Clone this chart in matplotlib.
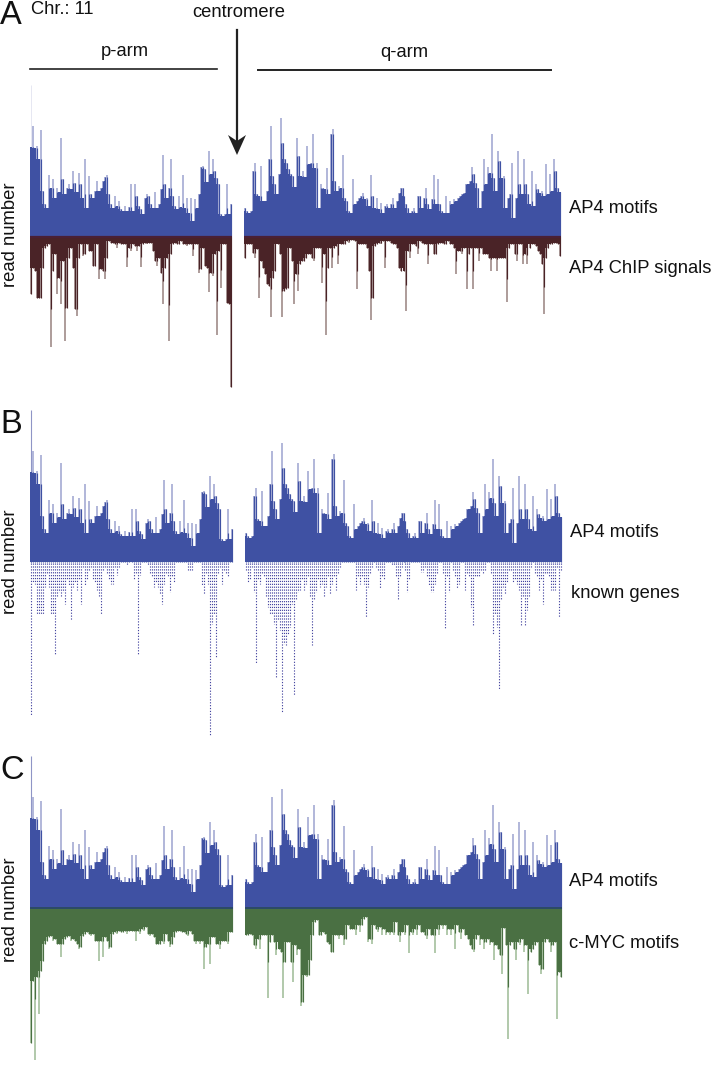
import matplotlib
import numpy as np

matplotlib.use("Agg")
import matplotlib.pyplot as plt  # noqa: E402
from matplotlib.patches import Polygon  # noqa: E402

plt.rcParams["font.family"] = ["Liberation Sans", "DejaVu Sans"]

# read numbers per bin along the chromosome, p-arm and q-arm (1 unit = 1 px of the figure)
ap4_p = [90, 111, 89, 91, 78, 107, 46, 33, 29, 62, 49, 58, 39, 49, 45, 99, 58, 43, 49, 53, 48, 66, 54, 45, 64, 53, 39, 78, 29, 61,
         43, 39, 46, 56, 46, 49, 56, 60, 62, 43, 33, 29, 41, 31, 36, 28, 26, 31, 26, 30, 53, 26, 53, 41, 31, 28, 23, 39, 43, 41,
         33, 29, 45, 29, 33, 48, 82, 53, 39, 49, 78, 41, 31, 28, 41, 30, 62, 29, 39, 24, 39, 16, 38, 29, 43, 70, 71, 68, 55, 86,
         63, 78, 66, 59, 53, 23, 21, 23, 53, 23, 33]
ap4_q = [29, 26, 24, 26, 66, 74, 43, 41, 71, 36, 36, 46, 78, 111, 61, 53, 43, 63, 119, 94, 78, 74, 68, 63, 61, 50, 99, 81, 61, 66,
         60, 91, 73, 74, 103, 69, 74, 29, 53, 49, 48, 69, 43, 103, 108, 56, 46, 51, 49, 82, 39, 36, 26, 24, 58, 33, 36, 39, 41, 44,
         38, 39, 31, 62, 41, 29, 39, 28, 34, 24, 31, 33, 29, 33, 39, 29, 36, 44, 49, 49, 41, 33, 29, 24, 26, 29, 24, 41, 41, 29,
         39, 49, 33, 28, 38, 62, 33, 58, 33, 26, 24, 41, 24, 36, 33, 38, 36, 39, 41, 43, 44, 53, 53, 56, 70, 63, 54, 49, 29, 46,
         78, 53, 70, 64, 103, 59, 46, 86, 76, 59, 61, 29, 39, 43, 74, 19, 39, 86, 53, 43, 78, 53, 43, 33, 66, 31, 53, 48, 44, 46,
         41, 73, 43, 63, 46, 78, 66, 49, 45]
ap4_first_bin = 152

chip_p = [57, 31, 34, 61, 61, 61, 31, 11, 9, 7, 110, 34, 17, 57, 41, 67, 24, 104, 71, 21, 11, 31, 72, 79, 21, 7, 19, 17, 7, 14,
          14, 29, 29, 7, 42, 32, 34, 42, 21, 4, 6, 6, 7, 11, 6, 7, 7, 7, 30, 11, 14, 7, 9, 14, 9, 30, 7, 6, 7, 6,
          6, 14, 24, 29, 21, 36, 67, 31, 21, 104, 17, 7, 6, 7, 7, 4, 7, 7, 9, 7, 7, 19, 7, 7, 36, 32, 11, 29, 31, 55,
          36, 39, 17, 98, 14, 51, 7, 7, 66, 67, 150]
chip_q = [21, 7, 7, 7, 16, 21, 12, 61, 24, 31, 37, 47, 49, 80, 41, 34, 7, 17, 80, 54, 52, 51, 11, 24, 67, 37, 54, 27, 24, 24,
          21, 17, 17, 21, 24, 11, 11, 11, 46, 17, 98, 31, 11, 31, 11, 9, 27, 7, 7, 7, 4, 6, 3, 3, 4, 52, 7, 7, 7, 7,
          11, 34, 83, 61, 9, 7, 6, 7, 4, 31, 4, 4, 6, 7, 7, 11, 31, 34, 34, 74, 14, 21, 7, 7, 9, 17, 4, 6, 7, 7,
          27, 7, 7, 17, 17, 7, 6, 6, 7, 7, 4, 7, 7, 11, 37, 14, 14, 17, 11, 52, 17, 11, 52, 11, 11, 24, 11, 17, 17, 17,
          21, 34, 21, 21, 34, 21, 21, 21, 21, 65, 11, 7, 7, 17, 24, 7, 7, 27, 17, 27, 11, 7, 7, 9, 14, 17, 27, 77, 21, 11,
          7, 7, 6, 6, 7, 19]

genes_p = [152, 19, 21, 51, 52, 51, 51, 24, 11, 24, 51, 51, 91, 34, 29, 34, 29, 41, 17, 22, 57, 24, 19, 27, 17, 41, 4, 22, 17, 7,
           4, 17, 19, 27, 34, 52, 7, 4, 11, 17, 21, 21, 4, 12, 4, 0, 0, 0, 2, 0, 0, 16, 11, 91, 12, 0, 0, 0, 2, 11,
           14, 24, 19, 24, 31, 41, 21, 11, 14, 29, 14, 19, 0, 0, 0, 0, 0, 0, 7, 7, 7, 0, 0, 0, 0, 22, 31, 11, 21, 172,
           61, 51, 94, 11, 4, 21, 7, 11, 14, 0, 0]
genes_q = [7, 19, 17, 4, 29, 101, 17, 21, 11, 14, 34, 44, 52, 51, 61, 114, 57, 67, 150, 81, 82, 71, 64, 41, 132, 37, 29, 27, 17, 27,
           21, 14, 34, 82, 37, 29, 17, 24, 21, 34, 24, 14, 31, 21, 14, 27, 11, 4, 0, 0, 0, 0, 0, 0, 0, 27, 14, 21, 14, 21,
           54, 24, 11, 4, 0, 4, 7, 26, 14, 17, 0, 0, 0, 2, 2, 14, 37, 14, 4, 7, 29, 17, 0, 0, 0, 0, 0, 9, 9, 4,
           14, 22, 29, 29, 21, 11, 0, 0, 11, 66, 14, 29, 0, 7, 14, 26, 21, 0, 0, 27, 11, 14, 44, 63, 14, 14, 14, 7, 11, 7,
           0, 0, 11, 71, 51, 64, 127, 37, 24, 31, 19, 7, 7, 19, 17, 21, 27, 63, 34, 63, 47, 34, 4, 0, 11, 14, 27, 17, 41, 11,
           11, 14, 27, 27, 27, 4, 54, 7]

myc_p = [135, 73, 152, 69, 106, 63, 53, 36, 33, 29, 28, 33, 31, 36, 36, 49, 36, 31, 29, 28, 33, 31, 33, 36, 41, 39, 28, 26, 24, 26,
         28, 26, 33, 33, 53, 33, 49, 29, 33, 41, 39, 26, 24, 26, 23, 24, 24, 23, 26, 23, 23, 23, 33, 23, 26, 21, 23, 19, 26, 28,
         26, 29, 36, 36, 36, 33, 36, 26, 33, 39, 36, 29, 24, 23, 23, 24, 24, 26, 28, 23, 26, 33, 36, 33, 36, 33, 61, 39, 36, 56,
         29, 29, 36, 36, 41, 33, 33, 33, 36, 24, 24]
myc_q = [27, 27, 26, 27, 37, 41, 31, 41, 27, 27, 27, 90, 34, 27, 34, 47, 41, 44, 90, 54, 34, 34, 54, 74, 37, 47, 41, 98, 94, 67,
         69, 67, 52, 27, 14, 12, 27, 27, 24, 26, 34, 36, 44, 44, 27, 27, 31, 27, 37, 31, 17, 21, 21, 21, 27, 17, 24, 17, 11, 9,
         34, 31, 36, 17, 21, 24, 19, 27, 21, 27, 24, 27, 24, 27, 14, 27, 34, 24, 27, 17, 45, 24, 27, 21, 27, 17, 24, 24, 27, 31,
         21, 27, 27, 45, 21, 27, 17, 21, 17, 27, 21, 27, 21, 41, 17, 24, 31, 21, 27, 31, 37, 41, 44, 31, 27, 37, 31, 41, 34, 31,
         37, 34, 52, 37, 41, 47, 66, 20, 37, 131, 37, 34, 41, 52, 34, 37, 31, 44, 37, 86, 44, 41, 37, 34, 57, 66, 61, 34, 31, 34,
         44, 37, 34, 111, 64, 69]

BLUE, BLUE_TIP = "#3f51a3", "#9ca3d0"
MAROON, MAROON_TIP = "#4a2327", "#97817f"
GREEN, GREEN_TIP = "#4a7043", "#9dba95"
W, H = 712, 1065


def panel_axes(fig, top, bottom, base):
    # axes spanning the figure width, heights counted from the baseline in px
    ax = fig.add_axes([0, 1 - bottom / H, 1, (bottom - top) / H])
    ax.set_xlim(0, W)
    ax.set_ylim(base - bottom, base - top)
    ax.axis("off")
    return ax


def neighbours(values):
    v = np.asarray(values, dtype=float)
    padded = np.r_[v[0], v, v[-1]]
    return np.c_[padded[:-2], padded[1:-1], padded[2:]]


def bin_centres(values, start, end):
    edges = np.linspace(start, end, len(values) + 1)
    return (edges[:-1] + edges[1:]) / 2, edges[1] - edges[0]


def draw_track(ax, values, start, end, sign, colour, tip, dark_frac=0.55):
    # light tip over the whole bin value, dark core below it, solid body from the local minimum
    x, width = bin_centres(values, start, end)
    v = np.asarray(values, dtype=float)
    near = neighbours(values)
    ax.vlines(x, 0, sign * v, color=tip, lw=1.1, zorder=2)
    core = np.maximum(np.median(near, axis=1), dark_frac * v)
    ax.vlines(x, 0, sign * np.minimum(core, v), color=colour, lw=0.85, zorder=3)
    ax.bar(x, sign * near.min(axis=1), width=width, color=colour, lw=0, zorder=4)


def draw_genes(ax, values, start, end):
    # dotted columns, one dot per stacked gene, all starting under the baseline
    x, width = bin_centres(values, start, end)
    v = np.asarray(values, dtype=float)
    keep = v > 0
    ax.vlines(x[keep], -1, -v[keep] - 1, color="#4545a0", lw=0.8, linestyles=[(0, (1.1, 1.5))], zorder=2)


fig = plt.figure(figsize=(W / 100, H / 100), dpi=100)

# panel A
ax_a = panel_axes(fig, 78, 395, 237)
ax_a.vlines(30.5, 0, ap4_first_bin, color="#e6e7f2", lw=0.7)
draw_track(ax_a, ap4_p, 30, 232, 1, BLUE, BLUE_TIP)
draw_track(ax_a, ap4_q, 244, 561, 1, BLUE, BLUE_TIP)
draw_track(ax_a, chip_p, 30, 232, -1, MAROON, MAROON_TIP, dark_frac=0.65)
draw_track(ax_a, chip_q, 244, 561, -1, MAROON, MAROON_TIP, dark_frac=0.65)
ax_a.hlines([0, 0], [30, 244], [232, 561], color="#4a2035", lw=1.6, zorder=5)

# panel B
ax_b = panel_axes(fig, 405, 745, 562)
ax_b.vlines(30.5, 0, ap4_first_bin, color="#8f95c6", lw=0.8)
draw_track(ax_b, ap4_p, 30, 233, 1, BLUE, BLUE_TIP)
draw_track(ax_b, ap4_q, 245, 562, 1, BLUE, BLUE_TIP)
draw_genes(ax_b, genes_p, 30, 233)
draw_genes(ax_b, genes_q, 245, 562)

# panel C
ax_c = panel_axes(fig, 750, 1065, 908)
ax_c.vlines(30.5, 0, ap4_first_bin, color="#8f95c6", lw=0.8)
draw_track(ax_c, ap4_p, 30, 233, 1, BLUE, BLUE_TIP)
draw_track(ax_c, ap4_q, 245, 562, 1, BLUE, BLUE_TIP)
draw_track(ax_c, myc_p, 30, 233, -1, GREEN, GREEN_TIP, dark_frac=0.6)
draw_track(ax_c, myc_q, 245, 562, -1, GREEN, GREEN_TIP, dark_frac=0.6)
ax_c.hlines([0, 0], [30, 245], [233, 562], color="#2c4a66", lw=1.4, zorder=5)

# annotations in figure pixels
over = fig.add_axes([0, 0, 1, 1], facecolor="none")
over.set_xlim(0, W)
over.set_ylim(H, 0)
over.axis("off")

TEXT = "#111111"
for letter, y in [("A", 24), ("B", 433), ("C", 779)]:
    over.text(0, y, letter, fontsize=23.5, ha="left", va="baseline", color=TEXT)
over.text(31, 14, "Chr.: 11", fontsize=13.2, ha="left", va="baseline", color=TEXT)
over.text(239, 17, "centromere", fontsize=13.2, ha="center", va="baseline", color=TEXT)
over.text(125, 56, "p-arm", fontsize=13.2, ha="center", va="baseline", color=TEXT)
over.text(404, 57, "q-arm", fontsize=13.2, ha="center", va="baseline", color=TEXT)
over.plot([30, 217], [69, 69], color="#222222", lw=1.2)
over.plot([258, 551], [70, 70], color="#222222", lw=1.4)

over.plot([237, 237], [30, 140], color="#222222", lw=1.6)
over.add_patch(Polygon([(228, 135), (237, 155), (246, 135), (237, 141)], closed=True, color="#222222", lw=0))

for y in [235, 562, 910]:
    over.text(11, y, "read number", fontsize=13.3, rotation=90, ha="center", va="center", color=TEXT)

side_labels = ["AP4 motifs", "AP4 ChIP signals", "AP4 motifs", "known genes", "AP4 motifs", "c-MYC motifs"]
side_x = [569, 569, 570, 571, 569, 569]
side_y = [213, 273, 537, 598, 886, 948]
for label, x, y in zip(side_labels, side_x, side_y):
    over.text(x, y, label, fontsize=13.2, ha="left", va="baseline", color=TEXT)

fig.savefig("out.png", dpi=100)
plt.close(fig)
